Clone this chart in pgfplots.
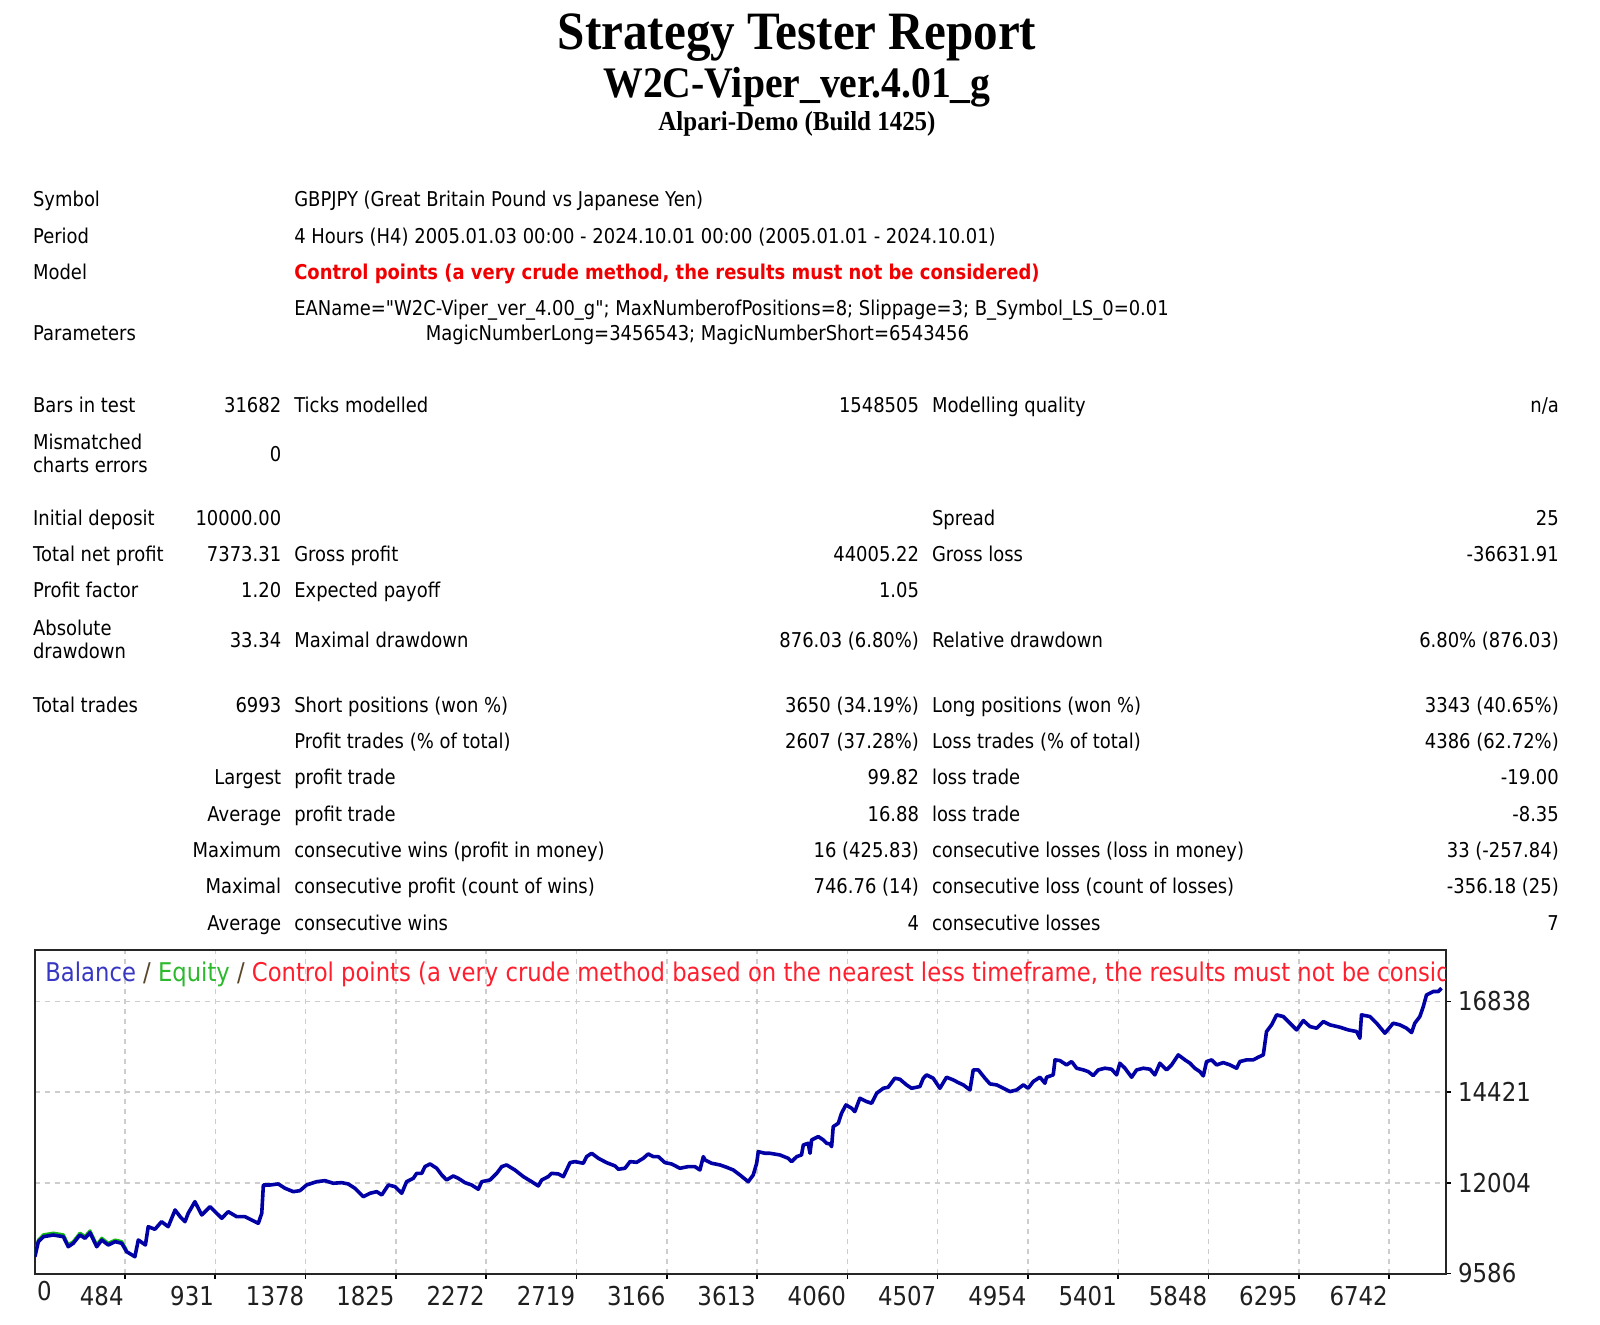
\documentclass[border=0pt]{standalone}
\usepackage{fontspec}
\setmainfont{DejaVu Sans}[FakeStretch=0.88]
\newfontfamily\tahoma{DejaVu Sans}[FakeStretch=0.88]
\newfontfamily\titlefont{Liberation Serif}[FakeStretch=0.91]
\usepackage{pgfplots}
\pgfplotsset{compat=1.18}
\definecolor{bal}{RGB}{0,0,165}
\definecolor{eqc}{RGB}{20,185,20}
\definecolor{lgb}{RGB}{55,55,195}
\definecolor{lgg}{RGB}{45,185,45}
\definecolor{lgr}{RGB}{255,30,45}
\definecolor{slash}{RGB}{90,70,40}
\definecolor{modelred}{RGB}{240,0,0}
\definecolor{gridc}{RGB}{205,205,205}
\newcommand\body{\tahoma\fontsize{10.2}{12}\selectfont}
\newcommand\lt[3]{\node[anchor=base west,inner sep=0pt] at (#1,#2) {#3};}
\newcommand\rt[3]{\node[anchor=base east,inner sep=0pt] at (#1,#2) {#3};}
\begin{document}
\begin{tikzpicture}
\begin{scope}[x=0.5pt,y=-0.5pt]
\path[use as bounding box] (0,0) rectangle (1600,1325);
% titles
\node[anchor=base,inner sep=0pt] at (797,50) {\titlefont\bfseries\fontsize{27}{30}\selectfont Strategy Tester Report};
\node[anchor=base,inner sep=0pt] at (797,98) {\titlefont\bfseries\fontsize{21.8}{24}\selectfont W2C-Viper\_ver.4.01\_g};
\node[anchor=base,inner sep=0pt] at (797,130.5) {\titlefont\bfseries\fontsize{13.7}{16}\selectfont Alpari-Demo (Build 1425)};
\begin{scope}[every node/.style={font=\body}]
\lt{32.7}{206.5}{Symbol}
\lt{293.9}{206.5}{GBPJPY (Great Britain Pound vs Japanese Yen)}
\lt{32.7}{244}{Period}
\lt{293.9}{244}{4 Hours (H4) 2005.01.03 00:00 - 2024.10.01 00:00 (2005.01.01 - 2024.10.01)}
\lt{32.7}{280}{Model}
\lt{293.9}{280}{\textcolor{modelred}{\bfseries Control points (a very crude method, the results must not be considered)}}
\lt{293.9}{316}{EAName="W2C-Viper\_ver\_4.00\_g"; MaxNumberofPositions=8; Slippage=3; B\_Symbol\_LS\_0=0.01}
\lt{32.7}{341}{Parameters}
\lt{425.5}{341}{MagicNumberLong=3456543; MagicNumberShort=6543456}
\lt{32.7}{412.5}{Bars in test}
\rt{281.6}{412.5}{31682}
\lt{293.9}{412.5}{Ticks modelled}
\rt{919.4}{412.5}{1548505}
\lt{931.6}{412.5}{Modelling quality}
\rt{1559.2}{412.5}{n/a}
\lt{32.7}{450}{Mismatched}
\lt{32.7}{473}{charts errors}
\rt{281.6}{461.5}{0}
\lt{32.7}{526}{Initial deposit}
\rt{281.6}{526}{10000.00}
\lt{931.6}{526}{Spread}
\rt{1559.2}{526}{25}
\lt{32.7}{562}{Total net profit}
\rt{281.6}{562}{7373.31}
\lt{293.9}{562}{Gross profit}
\rt{919.4}{562}{44005.22}
\lt{931.6}{562}{Gross loss}
\rt{1559.2}{562}{-36631.91}
\lt{32.7}{598}{Profit factor}
\rt{281.6}{598}{1.20}
\lt{293.9}{598}{Expected payoff}
\rt{919.4}{598}{1.05}
\lt{32.7}{636}{Absolute}
\lt{32.7}{659}{drawdown}
\rt{281.6}{647.5}{33.34}
\lt{293.9}{647.5}{Maximal drawdown}
\rt{919.4}{647.5}{876.03 (6.80\%)}
\lt{931.6}{647.5}{Relative drawdown}
\rt{1559.2}{647.5}{6.80\% (876.03)}
\lt{32.7}{712}{Total trades}
\rt{281.6}{712}{6993}
\lt{293.9}{712}{Short positions (won \%)}
\rt{919.4}{712}{3650 (34.19\%)}
\lt{931.6}{712}{Long positions (won \%)}
\rt{1559.2}{712}{3343 (40.65\%)}
\lt{293.9}{748}{Profit trades (\% of total)}
\rt{919.4}{748}{2607 (37.28\%)}
\lt{931.6}{748}{Loss trades (\% of total)}
\rt{1559.2}{748}{4386 (62.72\%)}
\rt{281.6}{784}{Largest}
\lt{293.9}{784}{profit trade}
\rt{919.4}{784}{99.82}
\lt{931.6}{784}{loss trade}
\rt{1559.2}{784}{-19.00}
\rt{281.6}{821}{Average}
\lt{293.9}{821}{profit trade}
\rt{919.4}{821}{16.88}
\lt{931.6}{821}{loss trade}
\rt{1559.2}{821}{-8.35}
\rt{281.6}{857.5}{Maximum}
\lt{293.9}{857.5}{consecutive wins (profit in money)}
\rt{919.4}{857.5}{16 (425.83)}
\lt{931.6}{857.5}{consecutive losses (loss in money)}
\rt{1559.2}{857.5}{33 (-257.84)}
\rt{281.6}{893.5}{Maximal}
\lt{293.9}{893.5}{consecutive profit (count of wins)}
\rt{919.4}{893.5}{746.76 (14)}
\lt{931.6}{893.5}{consecutive loss (count of losses)}
\rt{1559.2}{893.5}{-356.18 (25)}
\rt{281.6}{930}{Average}
\lt{293.9}{930}{consecutive wins}
\rt{919.4}{930}{4}
\lt{931.6}{930}{consecutive losses}
\rt{1559.2}{930}{7}
\end{scope}
\end{scope}
\begin{axis}[
  at={(17.35pt,-636.75pt)}, anchor=south west,
  scale only axis, width=705.5pt, height=161.75pt,
  xmin=37, xmax=7022, ymin=9586, ymax=18206,
  scaled y ticks=false, scaled x ticks=false,
  axis line style={line width=1pt, color=black!85},
  xtick={484,931,1378,1825,2272,2719,3166,3613,4060,4507,4954,5401,5848,6295,6742},
  xticklabels={484,931,1378,1825,2272,2719,3166,3613,4060,4507,4954,5401,5848,6295,6742},
  ytick={9586,12004,14421,16838},
  yticklabels={9586,12004,14421,16838},
  grid=major,
  major grid style={color=gridc, line width=0.75pt, dash pattern=on 2.5pt off 2.5pt},
  tick align=outside, xtick pos=bottom, ytick pos=right,
  yticklabel pos=right,
  major tick length=2.5pt,
  tick style={black, line width=0.8pt},
  ticklabel style={font=\tahoma\fontsize{13}{15}\selectfont, text=black!88},
  yticklabel style={anchor=west, inner sep=0pt, xshift=3.5pt},
  xticklabel style={anchor=north east, inner sep=0pt, yshift=-3.5pt, xshift=-0.5pt},
  extra x ticks={37}, extra x tick labels={0},
  extra x tick style={grid=none, major tick length=0pt, xticklabel style={anchor=north west, xshift=1.5pt}},
]
\addplot[eqc, line width=1.5pt, line join=round] coordinates {
(38,10080) (55,10480) (80,10620) (129,10665) (179,10620) (203,10350) (228,10440) (261,10665) (286,10575) (311,10725) (344,10350) (369,10530) (401,10395) (435,10480) (468,10440) (492,10210)
};
\addplot[bal, line width=1.8pt, line join=round] coordinates {
(38,10034) (55,10434) (80,10567) (129,10612) (179,10567) (203,10300) (228,10391) (261,10612) (286,10524) (311,10674) (344,10300) (369,10479) (401,10346) (435,10434) (468,10391) (492,10167) (533,10034) (550,10479) (585,10346) (599,10834) (632,10764) (665,10967) (698,10834) (732,11279) (757,11100) (781,10967) (797,11191) (830,11500) (864,11146) (905,11367) (938,11191) (963,11058) (995,11234) (1037,11100) (1078,11100) (1111,11012) (1144,10924) (1161,11191) (1169,11945) (1202,11945) (1243,11972) (1276,11857) (1317,11767) (1350,11793) (1383,11945) (1433,12033) (1474,12060) (1515,11991) (1557,12007) (1589,11972) (1622,11857) (1664,11633) (1697,11724) (1730,11767) (1755,11679) (1788,11945) (1821,11900) (1854,11724)
(1878,12033) (1911,12122) (1928,12255) (1953,12255) (1969,12434) (1994,12505) (2027,12390) (2052,12212) (2076,12079) (2109,12185) (2134,12122) (2167,12007) (2200,11945) (2233,11831) (2250,12033) (2291,12079) (2324,12255) (2349,12434) (2373,12479) (2414,12345) (2456,12167) (2497,12033) (2530,11919) (2547,12079) (2579,12167) (2596,12255) (2629,12239) (2654,12167) (2670,12345) (2687,12540) (2711,12567) (2753,12524) (2769,12700) (2794,12790) (2827,12657) (2868,12540) (2910,12452) (2926,12364) (2959,12390) (2984,12567) (3017,12549) (3050,12657) (3074,12772) (3099,12700) (3124,12700) (3157,12540) (3190,12505) (3231,12390) (3272,12434) (3305,12434) (3330,12345) (3347,12700) (3355,12612) (3388,12524) (3429,12479) (3462,12417) (3495,12345) (3528,12212) (3569,12033) (3594,12212) (3611,12524) (3619,12833) (3652,12790)
(3677,12789) (3726,12745) (3767,12656) (3784,12567) (3809,12700) (3833,12745) (3842,13012) (3866,13056) (3875,12789) (3883,13145) (3916,13234) (3941,13145) (3957,13056) (3974,13038) (3982,12967) (3990,13500) (4015,13589) (4031,13856) (4053,14078) (4081,13989) (4097,13900) (4122,14256) (4155,14167) (4180,14122) (4205,14389) (4238,14522) (4262,14549) (4295,14789) (4320,14762) (4353,14611) (4378,14522) (4419,14567) (4436,14789) (4452,14878) (4485,14789) (4518,14522) (4551,14816) (4584,14745) (4609,14673) (4634,14611) (4667,14478) (4683,15011) (4708,15011) (4741,14789) (4766,14638) (4799,14611) (4832,14522) (4865,14433) (4898,14478) (4931,14611) (4955,14522) (4980,14700) (5013,14816) (5038,14656) (5046,14816) (5079,14878) (5088,15278) (5112,15260) (5145,15144) (5170,15233) (5195,15056) (5228,15011) (5252,14967) (5277,14860) (5302,15011) (5335,15056) (5368,15029) (5393,14878) (5409,15189) (5434,15056) (5467,14816) (5492,15011) (5525,15056) (5558,15029)
(5582,14878) (5607,15189) (5640,15011) (5665,15144) (5698,15411) (5731,15278) (5756,15189) (5780,15055) (5805,14966) (5822,14851) (5838,15233) (5863,15278) (5888,15144) (5921,15206) (5954,15144) (5987,15055) (6003,15233) (6036,15278) (6069,15278) (6094,15349) (6119,15411) (6135,16033) (6160,16211) (6185,16477) (6218,16433) (6251,16255) (6284,16077) (6317,16326) (6350,16166) (6383,16122) (6416,16300) (6449,16211) (6498,16149) (6539,16077) (6581,16033) (6597,15855) (6605,16477) (6647,16433) (6680,16255) (6721,15989) (6762,16255) (6795,16211) (6828,16122) (6853,16006) (6869,16255) (6894,16433) (6911,16699) (6927,17010) (6960,17099) (6985,17099) (7001,17188)
};
\end{axis}
\begin{scope}[x=0.5pt,y=-0.5pt]
\clip (34.7,950) rectangle (1445.7,1273.5);
\node[anchor=base west,inner sep=0pt] at (45,981) {\tahoma\fontsize{12.9}{14}\selectfont\textcolor{lgb}{Balance} \textcolor{slash}{/} \textcolor{lgg}{Equity} \textcolor{slash}{/} \textcolor{lgr}{Control points (a very crude method based on the nearest less timeframe, the results must not be considered)}};
\end{scope}
\end{tikzpicture}
\end{document}
